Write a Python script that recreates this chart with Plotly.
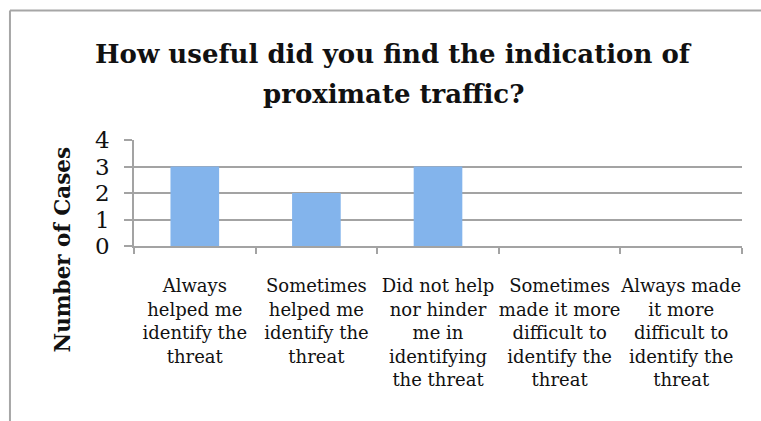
import plotly.graph_objects as go

categories = [
    "Always<br>helped me<br>identify the<br>threat",
    "Sometimes<br>helped me<br>identify the<br>threat",
    "Did not help<br>nor hinder<br>me in<br>identifying<br>the threat",
    "Sometimes<br>made it more<br>difficult to<br>identify the<br>threat",
    "Always made<br>it more<br>difficult to<br>identify the<br>threat",
]
cases = [3, 2, 3, 0, 0]
y_ticks = [0, 1, 2, 3, 4]

title_lines = ["How useful did you find the indication of", "proximate traffic?"]
y_title = "Number of Cases"

grid = "#a3a3a3"
frame = "#a6a6a6"
serif = "DejaVu Serif"

fig = go.Figure(go.Bar(
    x=categories,
    y=cases,
    marker=dict(color="#83b4ec", line=dict(width=0)),
    hoverinfo="x+y",
))

fig.update_xaxes(
    showgrid=False,
    showline=True, linecolor=grid, linewidth=1.5,
    ticks="outside", tickson="boundaries", ticklen=6, tickcolor=grid, tickwidth=1.5,
    tickangle=0,
    tickfont=dict(family=serif, size=18, color="#111"),
    ticklabelstandoff=23,
)

fig.update_yaxes(
    range=[0, 4],
    tickvals=y_ticks,
    showgrid=True, gridcolor=grid, gridwidth=1.5,
    showline=True, linecolor=grid, linewidth=1.5,
    zeroline=False,
    ticks="outside", ticklen=8, tickcolor=grid, tickwidth=1.5,
    tickfont=dict(family=serif, size=23, color="#111"),
    ticklabelstandoff=10,
)

title_ann = [
    dict(text="<b>" + line + "</b>", xref="paper", yref="paper",
         x=0.426, y=y, xanchor="center", yanchor="middle", showarrow=False,
         font=dict(family=serif, size=26, color="#111"))
    for line, y in zip(title_lines, [1.809, 1.434])
]

fig.update_layout(
    width=761, height=421,
    margin=dict(l=134, r=19, t=140, b=175),
    plot_bgcolor="white",
    paper_bgcolor="white",
    bargap=0.6,
    showlegend=False,
    annotations=title_ann + [
        dict(text="<b>" + y_title + "</b>", xref="paper", yref="paper",
             x=-0.118, y=-0.03, xanchor="center", yanchor="middle", showarrow=False,
             textangle=-90, font=dict(family=serif, size=21.5, color="#111")),
    ],
    # chart frame: only the top and left edges are inside the crop
    shapes=[
        dict(type="line", xref="paper", yref="paper",
             x0=-0.204, x1=1.1, y0=2.221, y1=2.221,
             line=dict(color=frame, width=2), layer="below"),
        dict(type="line", xref="paper", yref="paper",
             x0=-0.204, x1=-0.204, y0=2.221, y1=-2.2,
             line=dict(color=frame, width=2), layer="below"),
    ],
)

# drop the default body margin so the figure sits at the window origin
fig.write_html("out.html",
               config={"displayModeBar": False},
               post_script="document.body.style.margin='0';document.body.style.overflow='hidden';")
